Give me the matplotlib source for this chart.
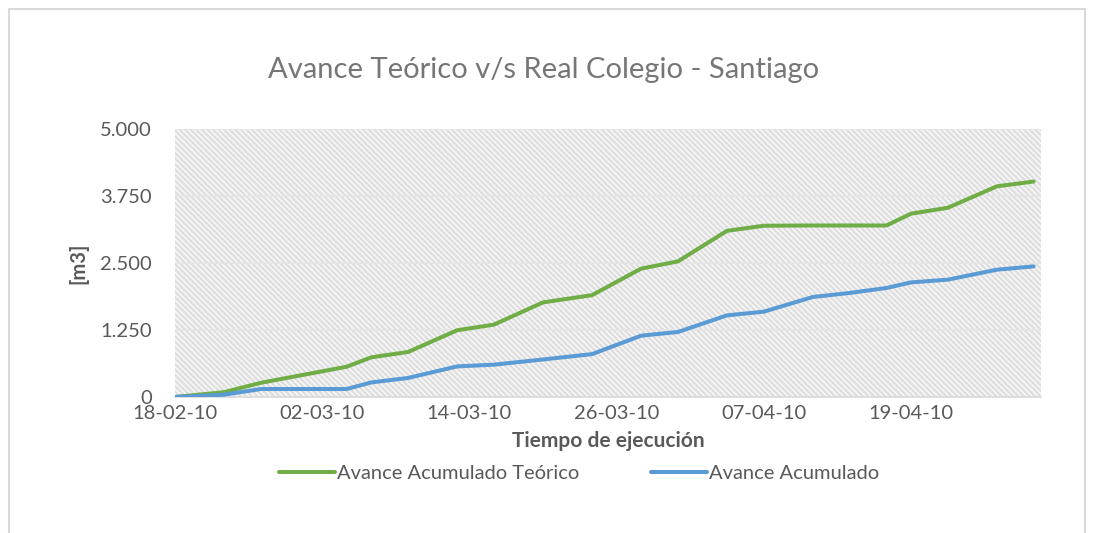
import numpy as np
import pandas as pd
import matplotlib
matplotlib.use('Agg')
import matplotlib.pyplot as plt
import matplotlib.dates as mdates
from matplotlib.patches import Rectangle
from matplotlib.ticker import FuncFormatter

# Datos
fechas = ['18-02-10', '22-02-10', '25-02-10', '04-03-10', '06-03-10', '09-03-10',
          '13-03-10', '16-03-10', '20-03-10', '24-03-10', '28-03-10', '31-03-10',
          '04-04-10', '07-04-10', '11-04-10', '14-04-10', '17-04-10', '19-04-10',
          '22-04-10', '24-04-10', '26-04-10', '29-04-10']
avance_teorico = [0, 90, 265, 565, 740, 840, 1245, 1350, 1765, 1900, 2395, 2530,
                  3100, 3195, 3200, 3200, 3200, 3420, 3530, 3730, 3930, 4020]
avance_real = [0, 43, 149, 149, 272, 355, 571, 603, 700, 800, 1144, 1213,
               1523, 1592, 1866, 1941, 2034, 2138, 2189, 2282, 2375, 2437]
ticks_x = ['18-02-10', '02-03-10', '14-03-10', '26-03-10', '07-04-10', '19-04-10']
ticks_y = [0, 1250, 2500, 3750, 5000]

plt.rcParams['font.family'] = ['Lato', 'DejaVu Sans']
gris = '#595959'

x = pd.to_datetime(fechas, format='%d-%m-%y')
xt = pd.to_datetime(ticks_x, format='%d-%m-%y')

fig = plt.figure(figsize=(10.94, 5.33), dpi=100)
ax = fig.add_axes([175 / 1094, 1 - 397 / 533, (1041 - 175) / 1094, (397 - 129) / 533])

# fondo rayado
plt.rcParams['hatch.linewidth'] = 2.0
ax.add_patch(Rectangle((0, 0), 1, 1, transform=ax.transAxes, facecolor='white',
                       edgecolor='#e0e0e0', hatch='\\' * 6, linewidth=0, zorder=0))

ax.plot(x, avance_teorico, color='#70ad47', lw=2.9, solid_capstyle='round',
        solid_joinstyle='round', label='Avance Acumulado Teórico', zorder=3)
ax.plot(x, avance_real, color='#5b9bd5', lw=2.9, solid_capstyle='round',
        solid_joinstyle='round', label='Avance Acumulado', zorder=3)

x0 = mdates.date2num(x[0])
ax.set_xlim(x0, x0 + 70.6)
ax.set_ylim(0, 5000)
ax.set_xticks(xt)
ax.set_xticklabels(ticks_x)
ax.set_yticks(ticks_y)
ax.yaxis.set_major_formatter(FuncFormatter(lambda v, p: '{:,.0f}'.format(v).replace(',', '.')))

ax.grid(axis='y', color='#e6e6e6', lw=1.2, zorder=1)
ax.set_axisbelow(True)
for s in ['top', 'right', 'left']:
    ax.spines[s].set_visible(False)
ax.spines['bottom'].set_color('#d9d9d9')
ax.spines['bottom'].set_linewidth(1.2)
ax.tick_params(length=0, labelcolor=gris)
ax.tick_params(axis='x', pad=6, labelsize=14.5)
ax.tick_params(axis='y', pad=16.5, labelsize=14.5)

ax.set_xlabel('Tiempo de ejecución', fontsize=15, fontweight='bold', color=gris, labelpad=6)
ax.set_ylabel('[m3]', fontsize=14.5, fontweight='bold', color=gris)
ax.yaxis.set_label_coords(-0.1, 0.5)

fig.text(544 / 1094, 1 - 70 / 533, 'Avance Teórico v/s Real Colegio - Santiago',
         ha='center', va='center', fontsize=21, color='#767676')

leg = fig.legend(loc='center', bbox_to_anchor=(579 / 1094, 1 - 473 / 533), ncol=2,
                 frameon=False, fontsize=14.5, handlelength=2.75, handletextpad=0.1,
                 columnspacing=3.6)
for t in leg.get_texts():
    t.set_color(gris)

# borde exterior
fig.patches.append(Rectangle((9 / 1094, -0.1), (1085 - 9) / 1094, 1.1 - 9 / 533,
                             transform=fig.transFigure, fill=False,
                             edgecolor='#d9d9d9', lw=1.5))

fig.savefig('out.png', dpi=100)
